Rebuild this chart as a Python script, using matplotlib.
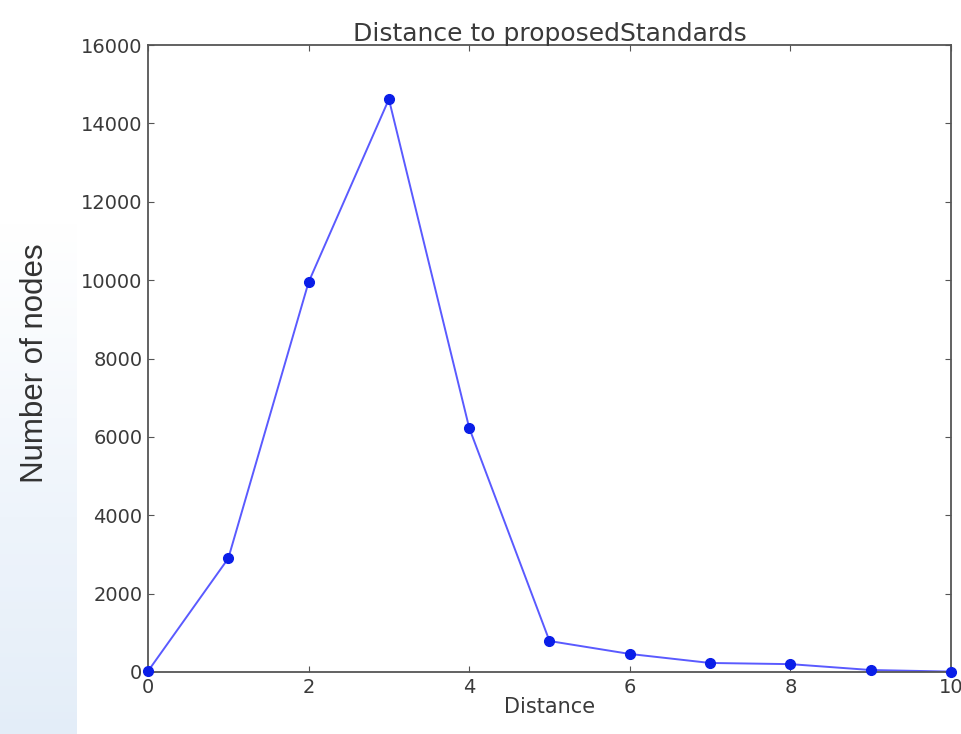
import numpy as np
import matplotlib.pyplot as plt
from matplotlib.colors import LinearSegmentedColormap

distance = [0, 1, 2, 3, 4, 5, 6, 7, 8, 9, 10]
nodes = [20, 2900, 9950, 14620, 6230, 790, 460, 230, 200, 50, 10]

fig = plt.figure(figsize=(9.61, 7.34), dpi=100)

# faint blue slide background on the left edge
bg = fig.add_axes([0, 0, 0.08, 1], zorder=-1)
cmap = LinearSegmentedColormap.from_list('bgblue', ['#e3edf8', '#eef4fb', '#ffffff'])
grad = np.linspace(0, 1, 200).reshape(-1, 1) ** 0.8
bg.imshow(grad, aspect='auto', cmap=cmap, vmin=0, vmax=0.75, origin='lower')
bg.axis('off')

ax = fig.add_axes([0.154, 0.0845, 0.8356, 0.854])
ax.plot(distance, nodes, '-', color='#5a5aff', lw=1.4, zorder=2)
ax.plot(distance, nodes, 'o', color='#0a1ee8', ms=7, zorder=3, clip_on=False)

ax.set_xlim(0, 10)
ax.set_ylim(0, 16000)
ax.set_xticks(range(0, 11, 2))
ax.set_yticks(range(0, 16001, 2000))
ax.tick_params(direction='in', top=True, right=True, length=4, labelsize=14,
               colors='#555555', labelcolor='#3a3a3a', pad=4)
for s in ax.spines.values():
    s.set_color('#555555')
    s.set_linewidth(1.3)

ax.set_title('Distance to proposedStandards', fontsize=18, color='#3a3a3a', pad=3)
ax.set_xlabel('Distance', fontsize=15, color='#3a3a3a', labelpad=0)

fig.text(0.036, 0.505, 'Number of nodes', rotation=90, va='center', ha='center',
         fontsize=22.5, family='Liberation Sans', color='#333333')

fig.savefig('out.png', dpi=100)
